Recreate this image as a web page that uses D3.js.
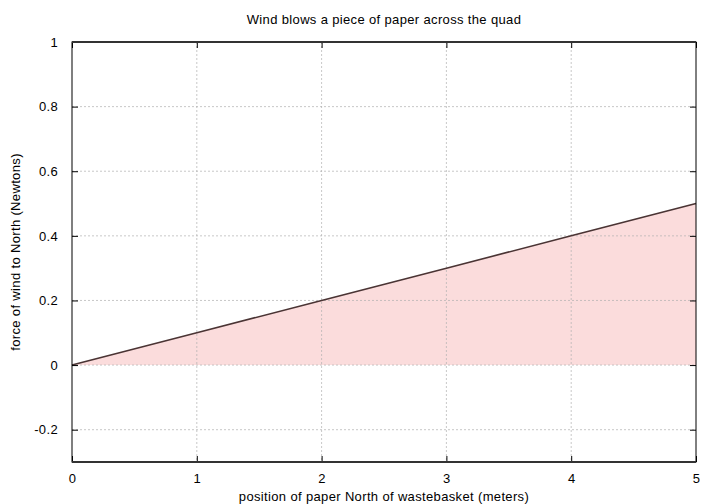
<!DOCTYPE html>
<html>
<head>
<meta charset="utf-8">
<script src="https://cdn.jsdelivr.net/npm/d3@7"></script>
<style>
  body { margin: 0; background: #fff; }
  text { font-family: "Liberation Sans", Arial, sans-serif; font-size: 13px; letter-spacing: 0.35px; fill: #000; }
</style>
</head>
<body>
<script>
// Data
var xValues = [0, 1, 2, 3, 4, 5];
var forceValues = [0, 0.1, 0.2, 0.3, 0.4, 0.5];
var xTicks = [0, 1, 2, 3, 4, 5];
var yTicks = [-0.2, 0, 0.2, 0.4, 0.6, 0.8, 1];

var svgWidth = 720;
var svgHeight = 504;
var margin = { top: 42, right: 24, bottom: 42, left: 72 };
var width = svgWidth - margin.left - margin.right;
var height = svgHeight - margin.top - margin.bottom;

var svg = d3.select("body").append("svg")
    .attr("width", svgWidth)
    .attr("height", svgHeight);

var chartGroup = svg.append("g")
    .attr("transform", `translate(${margin.left}, ${margin.top})`);

var xScale = d3.scaleLinear().domain([0, 5]).range([0, width]);
var yScale = d3.scaleLinear().domain([-0.3, 1]).range([height, 0]);

var data = xValues.map(function(x, i) { return { x: x, y: forceValues[i] }; });

// Filled area (drawn under the grid)
var area = d3.area()
    .x(d => xScale(d.x))
    .y0(yScale(0))
    .y1(d => yScale(d.y));
chartGroup.append("path").datum(data)
    .attr("d", area)
    .attr("fill", "#fbdcdc");

// Grid
chartGroup.selectAll(".vgrid").data(xTicks.slice(1, -1)).enter().append("line")
    .attr("x1", d => xScale(d)).attr("x2", d => xScale(d))
    .attr("y1", 0).attr("y2", height)
    .attr("stroke", "#b0b0b0").attr("stroke-width", 0.7).attr("stroke-dasharray", "2,2");
chartGroup.selectAll(".hgrid").data(yTicks.filter(d => d !== 1)).enter().append("line")
    .attr("x1", 0).attr("x2", width)
    .attr("y1", d => yScale(d)).attr("y2", d => yScale(d))
    .attr("stroke", "#b0b0b0").attr("stroke-width", 0.7).attr("stroke-dasharray", "2,2");

// Line
var line = d3.line().x(d => xScale(d.x)).y(d => yScale(d.y));
chartGroup.append("path").datum(data)
    .attr("d", line)
    .attr("fill", "none")
    .attr("stroke", "#4a3434")
    .attr("stroke-width", 1.6);

// Axes (ticks pointing inward, mirrored)
var bottomAxis = d3.axisBottom(xScale).tickValues(xTicks).tickSize(-6).tickPadding(12).tickFormat(d3.format("d"));
var topAxis = d3.axisTop(xScale).tickValues(xTicks).tickSize(-6).tickFormat("");
var leftAxis = d3.axisLeft(yScale).tickValues(yTicks).tickSize(-6).tickPadding(14)
    .tickFormat(d => String(+d.toFixed(1)));
var rightAxis = d3.axisRight(yScale).tickValues(yTicks).tickSize(-6).tickFormat("");

function styleAxis(g) {
  g.select(".domain").remove();
  g.selectAll(".tick line").attr("stroke", "#000");
  g.selectAll(".tick text").attr("font-family", null).attr("font-size", null).attr("fill", "#000");
}
chartGroup.append("g").attr("transform", `translate(0, ${height})`).call(bottomAxis).call(styleAxis);
chartGroup.append("g").call(topAxis).call(styleAxis);
chartGroup.append("g").call(leftAxis).call(styleAxis);
chartGroup.append("g").attr("transform", `translate(${width}, 0)`).call(rightAxis).call(styleAxis);

// Border
chartGroup.append("rect")
    .attr("x", 0).attr("y", 0).attr("width", width).attr("height", height)
    .attr("fill", "none").attr("stroke", "#000").attr("stroke-width", 1);
chartGroup.append("line").attr("x1", 0).attr("x2", width).attr("y1", 0).attr("y2", 0)
    .attr("stroke", "#333").attr("stroke-width", 2);
chartGroup.append("line").attr("x1", 0).attr("x2", width).attr("y1", height).attr("y2", height)
    .attr("stroke", "#333").attr("stroke-width", 2);

// Labels
svg.append("text").attr("x", 384).attr("y", 24).attr("text-anchor", "middle")
    .text("Wind blows a piece of paper across the quad");
svg.append("text").attr("x", 384).attr("y", 501).attr("text-anchor", "middle")
    .text("position of paper North of wastebasket (meters)");
svg.append("text").attr("transform", "translate(20, 252) rotate(-90)").attr("text-anchor", "middle")
    .text("force of wind to North (Newtons)");
</script>
</body>
</html>
